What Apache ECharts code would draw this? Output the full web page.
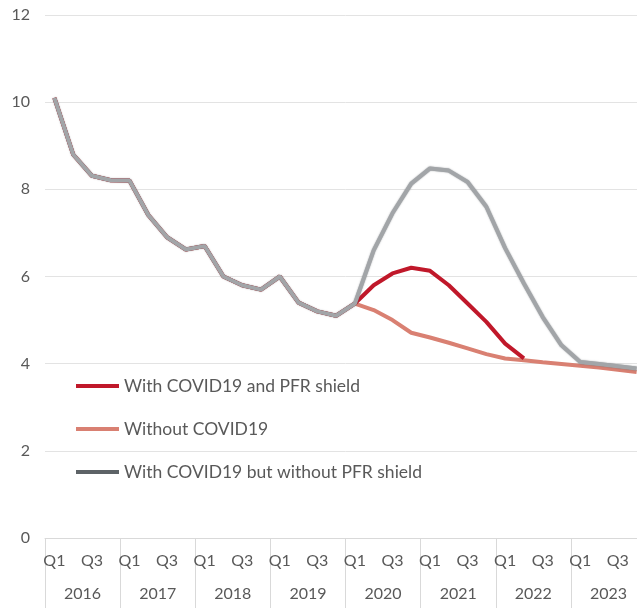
<!DOCTYPE html>
<html>
<head>
<meta charset="utf-8">
<script src="https://cdn.jsdelivr.net/npm/echarts@6/dist/echarts.min.js"></script>
<style>
html,body{margin:0;padding:0;background:#fff;overflow:hidden;}
#main{width:646px;height:608px;}
</style>
</head>
<body>
<div id="main"></div>
<script>
var years = ['2016','2017','2018','2019','2020','2021','2022','2023'];
var quarterNames = ['Q1','Q2','Q3','Q4'];
var yTicks = [0, 2, 4, 6, 8, 10, 12];

var pastValues = [10.1, 8.8, 8.31, 8.21, 8.2, 7.41, 6.9, 6.62, 6.7, 6.0, 5.8, 5.7, 6.0, 5.4, 5.2, 5.1, 5.38];
var shieldForecast = [5.8, 6.07, 6.2, 6.13, 5.8, 5.38, 4.96, 4.46, 4.12];
var noCovidForecast = [5.23, 5.0, 4.71, 4.6, 4.48, 4.35, 4.22, 4.12, 4.08, 4.03, 3.99, 3.95, 3.91, 3.86, 3.81];
var noShieldForecast = [6.6, 7.45, 8.13, 8.48, 8.43, 8.17, 7.6, 6.65, 5.84, 5.07, 4.42, 4.04, 3.99, 3.94, 3.89];

var names = ['With COVID19 and PFR shield', 'Without COVID19', 'With COVID19 but without PFR shield'];

var categories = [];
years.forEach(function (y) { quarterNames.forEach(function (q) { categories.push(y + ' ' + q); }); });

var withShield = pastValues.concat(shieldForecast);
var withoutCovid = pastValues.concat(noCovidForecast);
var withoutShield = pastValues.concat(noShieldForecast);

var chart = echarts.init(document.getElementById('main'), null, {renderer: 'canvas'});
var font = 'Lato';
chart.setOption({
  animation: false,
  backgroundColor: '#ffffff',
  grid: {left: 45, top: 15, bottom: 70, right: 0, containLabel: false},
  legend: {
    orient: 'vertical',
    left: 76,
    top: 377,
    padding: 0,
    itemGap: 25,
    itemWidth: 43,
    itemHeight: 4,
    textStyle: {fontFamily: font, fontSize: 17.5, color: '#595959'},
    data: [
      {name: names[0], icon: 'rect', itemStyle: {color: '#c0182a'}},
      {name: names[1], icon: 'rect', itemStyle: {color: '#d98072'}},
      {name: names[2], icon: 'rect', itemStyle: {color: '#5d6367'}}
    ]
  },
  xAxis: [{
    type: 'category',
    data: categories,
    boundaryGap: true,
    axisLine: {show: true, lineStyle: {color: '#d9d9d9', width: 1}},
    axisTick: {show: true, interval: 3, length: 75, lineStyle: {color: '#d9d9d9'}},
    axisLabel: {
      interval: 1,
      margin: 15,
      fontFamily: font, fontSize: 16, color: '#595959',
      formatter: function (v) { return v.split(' ')[1]; }
    },
    splitLine: {show: false}
  }, {
    type: 'category',
    data: years,
    position: 'bottom',
    boundaryGap: true,
    axisLine: {show: false},
    axisTick: {show: false},
    axisLabel: {margin: 48, fontFamily: font, fontSize: 16, color: '#595959'},
    splitLine: {show: false}
  }],
  yAxis: {
    type: 'value',
    min: yTicks[0],
    max: yTicks[yTicks.length - 1],
    interval: 2,
    axisLine: {show: false},
    axisTick: {show: false},
    axisLabel: {margin: 15, fontFamily: font, fontSize: 16, color: '#595959'},
    splitLine: {lineStyle: {color: '#e3e3e3', width: 1}}
  },
  series: [
    {
      name: names[1], type: 'line', data: withoutCovid, symbol: 'none',
      lineStyle: {color: '#d98072', width: 4}, itemStyle: {color: '#d98072'}, z: 2
    },
    {
      name: names[0], type: 'line', data: withShield, symbol: 'none',
      lineStyle: {color: '#c0182a', width: 4}, itemStyle: {color: '#c0182a'}, z: 3
    },
    {
      name: names[2], type: 'line', data: withoutShield, symbol: 'none',
      lineStyle: {color: '#a2a5a8', width: 4, shadowColor: 'rgba(80,85,90,0.6)', shadowBlur: 1.5}, itemStyle: {color: '#5d6367'}, z: 4
    }
  ]
});
</script>
</body>
</html>
